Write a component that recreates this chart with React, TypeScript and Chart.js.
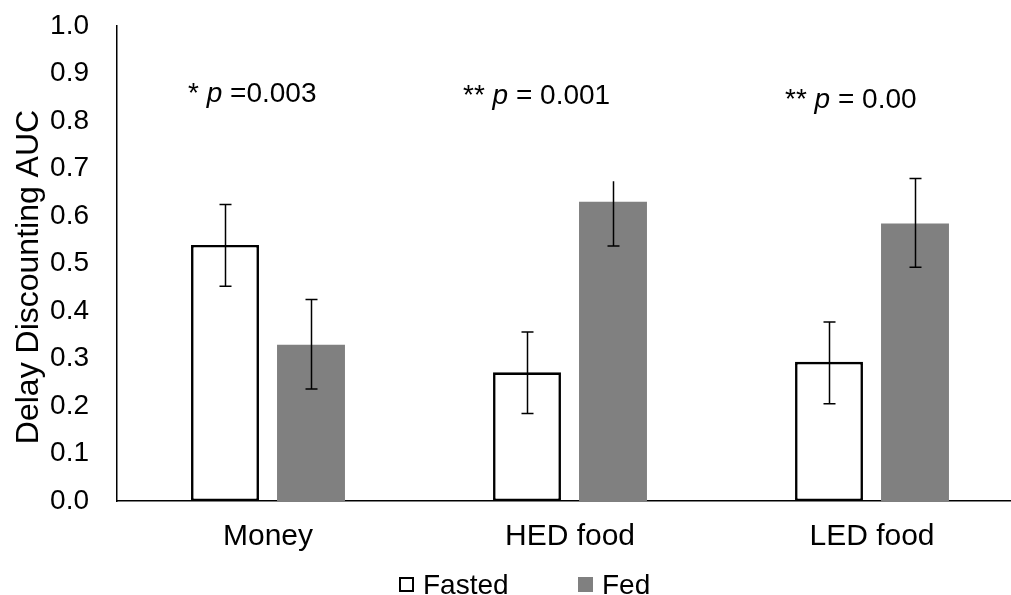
import React, { useEffect, useRef } from "react";
import { Chart, registerables } from "chart.js";

Chart.register(...registerables);

const categories = ["Money", "HED food", "LED food"];
const seriesNames = ["Fasted", "Fed"];
const fasted = [0.539, 0.271, 0.293];
const fed = [0.329, 0.63, 0.584];
const fastedHi = [0.624, 0.356, 0.377];
const fastedLo = [0.452, 0.184, 0.205];
const fedHi = [0.424, 0.673, 0.679];
const fedLo = [0.236, 0.537, 0.492];
const yTicks = [0, 0.1, 0.2, 0.3, 0.4, 0.5, 0.6, 0.7, 0.8, 0.9, 1.0];
const yTitle = "Delay Discounting AUC";
const annoPrefix = ["* ", "** ", "** "];
const annoP = ["p", "p", "p"];
const annoSuffix = [" =0.003", " = 0.001", " = 0.00"];
const annoY = [0.8397, 0.8354, 0.827];
const annoDx = [-80, -107, -87];

const FONT = "'Liberation Sans', Arial, sans-serif";
const GRAY = "#808080";

const errorBarPlugin = {
  id: "errorBars",
  afterDatasetsDraw(chart: any) {
    const ctx = chart.ctx;
    const y = chart.scales.y;
    const his = [fastedHi, fedHi];
    const los = [fastedLo, fedLo];
    ctx.save();
    ctx.strokeStyle = "#000";
    ctx.lineWidth = 1.5;
    for (let d = 0; d < 2; d++) {
      const meta = chart.getDatasetMeta(d);
      meta.data.forEach((bar: any, i: number) => {
        const x = Math.round(bar.x) + 0.5;
        const yh = y.getPixelForValue(his[d][i]);
        const yl = y.getPixelForValue(los[d][i]);
        ctx.beginPath();
        ctx.moveTo(x, yh);
        ctx.lineTo(x, yl);
        const noTopCap = d === 1 && i === 1;
        if (!noTopCap) {
          ctx.moveTo(x - 6, yh);
          ctx.lineTo(x + 6, yh);
        }
        ctx.moveTo(x - 6, yl);
        ctx.lineTo(x + 6, yl);
        ctx.stroke();
      });
    }
    ctx.restore();
  },
};

const annotationPlugin = {
  id: "annos",
  afterDraw(chart: any) {
    const ctx = chart.ctx;
    const xs = chart.scales.x;
    const ys = chart.scales.y;
    ctx.save();
    ctx.fillStyle = "#000";
    ctx.textBaseline = "alphabetic";
    ctx.textAlign = "left";
    categories.forEach((_, i) => {
      let x = xs.getPixelForValue(i) + annoDx[i];
      const y = ys.getPixelForValue(annoY[i]);
      ctx.font = `28px ${FONT}`;
      ctx.fillText(annoPrefix[i], x, y);
      x += ctx.measureText(annoPrefix[i]).width;
      ctx.font = `italic 28px ${FONT}`;
      ctx.fillText(annoP[i], x, y);
      x += ctx.measureText(annoP[i]).width;
      ctx.font = `28px ${FONT}`;
      ctx.fillText(annoSuffix[i], x, y);
    });
    // y-axis title
    ctx.save();
    ctx.translate(29, 277);
    ctx.rotate(-Math.PI / 2);
    ctx.font = `32px ${FONT}`;
    ctx.textAlign = "center";
    ctx.textBaseline = "middle";
    ctx.fillText(yTitle, 0, 0);
    ctx.restore();
    // legend
    const lx = [399, 578];
    const ly = 594;
    ctx.font = `28px ${FONT}`;
    ctx.textAlign = "left";
    ctx.textBaseline = "alphabetic";
    seriesNames.forEach((name, i) => {
      if (i === 0) {
        ctx.fillStyle = "#fff";
        ctx.fillRect(lx[i], 577, 15, 15);
        ctx.strokeStyle = "#000";
        ctx.lineWidth = 2;
        ctx.strokeRect(lx[i] + 1, 578, 13, 13);
      } else {
        ctx.fillStyle = GRAY;
        ctx.fillRect(lx[i], 577, 15, 15);
      }
      ctx.fillStyle = "#000";
      ctx.fillText(name, lx[i] + 24, ly);
    });
    ctx.restore();
  },
};

export default function App() {
  const ref = useRef<HTMLCanvasElement | null>(null);
  useEffect(() => {
    if (!ref.current) return;
    const chart = new Chart(ref.current, {
      type: "bar",
      data: {
        labels: categories,
        datasets: [
          {
            label: seriesNames[0],
            data: fasted,
            backgroundColor: "#ffffff",
            borderColor: "#000000",
            borderWidth: 2.6,
            borderSkipped: false,
          },
          {
            label: seriesNames[1],
            data: fed,
            backgroundColor: GRAY,
            borderWidth: 0,
          },
        ],
      },
      options: {
        responsive: false,
        animation: false,
        devicePixelRatio: 1,
        layout: { padding: { left: 0, right: 7, top: 26, bottom: 0 } },
        datasets: { bar: { categoryPercentage: 0.5695, barPercentage: 0.79 } },
        plugins: {
          legend: { display: false },
          tooltip: { enabled: false },
        },
        scales: {
          x: {
            grid: { display: false, drawTicks: false },
            border: { display: true, color: "#000", width: 1.5 },
            ticks: {
              color: "#000",
              font: { family: FONT, size: 30 },
              padding: 18,
              maxRotation: 0,
            },
            afterFit: (s: any) => {
              s.height = 94;
            },
          },
          y: {
            min: 0,
            max: 1,
            grid: { display: false, drawTicks: false },
            border: { display: true, color: "#000", width: 1.5 },
            afterBuildTicks: (s: any) => {
              s.ticks = yTicks.map((v) => ({ value: v }));
            },
            ticks: {
              color: "#000",
              font: { family: FONT, size: 28 },
              padding: 28,
              callback: (v: any) => Number(v).toFixed(1),
            },
            title: { display: false },
            afterFit: (s: any) => {
              s.width = 117;
              s.paddingTop = 0;
              s.paddingBottom = 0;
            },
          },
        },
      },
      plugins: [errorBarPlugin, annotationPlugin],
    });
    return () => chart.destroy();
  }, []);
  return (
    <div
      style={{
        position: "fixed",
        left: 0,
        top: 0,
        width: 1011,
        height: 595,
        overflow: "hidden",
        background: "#fff",
      }}
    >
      <canvas
        ref={ref}
        width={1030}
        height={595}
        style={{ display: "block", width: 1030, height: 595 }}
      />
    </div>
  );
}
